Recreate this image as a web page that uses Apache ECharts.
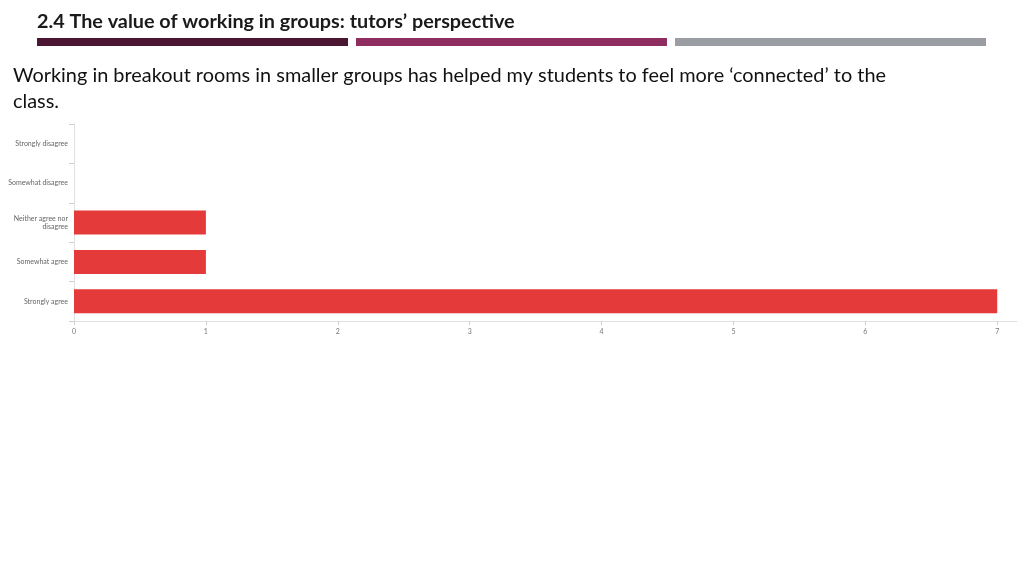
<!DOCTYPE html>
<html><head><meta charset="utf-8">
<script src="https://cdn.jsdelivr.net/npm/echarts@6/dist/echarts.min.js"></script>
<style>html,body{margin:0;padding:0;background:#fff}#c{width:1024px;height:576px}</style>
</head><body><div id="c"></div>
<script>
var categories = ['Strongly disagree', 'Somewhat disagree', 'Neither agree nor\ndisagree', 'Somewhat agree', 'Strongly agree'];
var counts = [0, 0, 1, 1, 7];
var xTicks = [0, 1, 2, 3, 4, 5, 6, 7];
var titleText = '2.4 The value of working in groups: tutors\u2019 perspective';
var questionText = 'Working in breakout rooms in smaller groups has helped my students to feel more \u2018connected\u2019 to the\nclass.';

var chart = echarts.init(document.getElementById('c'));
chart.setOption({
  animation: false,
  graphic: [
    {type: 'text', left: 37, top: 12, style: {text: titleText, font: 'bold 19.8px Lato', fill: '#1a1a1a'}},
    {type: 'rect', shape: {x: 37, y: 38, width: 311, height: 8}, style: {fill: '#4b1631'}},
    {type: 'rect', shape: {x: 356, y: 38, width: 311, height: 8}, style: {fill: '#8f2d60'}},
    {type: 'rect', shape: {x: 675, y: 38, width: 311, height: 8}, style: {fill: '#9a9da1'}},
    {type: 'text', left: 13, top: 63, style: {text: questionText, font: '19.9px Lato', fill: '#111', lineHeight: 26}}
  ],
  grid: {left: 74, right: 7, top: 124, bottom: 255, containLabel: false},
  xAxis: {
    type: 'value', min: 0, max: 7.15,
    axisLine: {show: true, lineStyle: {color: '#e0e0e0'}},
    axisTick: {show: true, length: 4, lineStyle: {color: '#d0d0d0'}, customValues: xTicks},
    axisLabel: {color: '#777', fontSize: 7, margin: 7, fontFamily: 'Lato', customValues: xTicks},
    splitLine: {show: false}
  },
  yAxis: {
    type: 'category', data: categories, inverse: true,
    axisLine: {show: true, lineStyle: {color: '#e0e0e0'}},
    axisTick: {show: true, length: 5, lineStyle: {color: '#d0d0d0'}},
    axisLabel: {color: '#666', fontSize: 7, margin: 6, fontFamily: 'Lato', lineHeight: 8, align: 'right'}
  },
  series: [{
    type: 'bar', data: counts, barWidth: '61%',
    itemStyle: {color: '#e53a3a'}
  }]
});
</script></body></html>
